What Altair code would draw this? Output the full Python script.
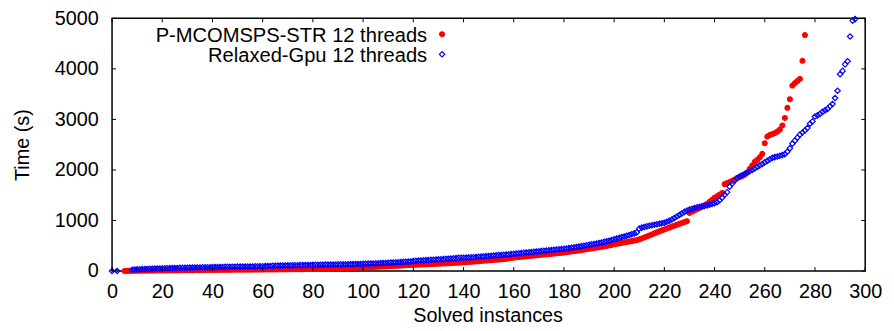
import altair as alt
import pandas as pd

SERIES = ["P-MCOMSPS-STR 12 threads", "Relaxed-Gpu 12 threads"]
x_ticks = list(range(0, 301, 20))
y_ticks = [0, 1000, 2000, 3000, 4000, 5000]

# P-MCOMSPS-STR: solved instances 5..276
red_first_x = 5
red_a = [2, 3, 3, 4, 5, 5, 6, 7, 7, 8, 9, 9, 10, 11, 12]
red_b = [12, 13, 13, 14, 14, 15, 15, 16, 16, 17, 17, 18, 18, 19, 19, 20, 20, 21, 21, 22]
red_c = [22, 23, 23, 24, 24, 25, 25, 25, 26, 26, 27, 27, 27, 28, 28, 28, 29, 29, 30, 30]
red_d = [30, 31, 31, 32, 32, 33, 33, 34, 34, 35, 35, 36, 36, 37, 37, 38, 38, 39, 39, 40]
red_e = [40, 41, 43, 44, 46, 47, 49, 50, 52, 53, 55, 56, 58, 59, 61, 62, 64, 66, 68, 70]
red_f = [72, 74, 77, 79, 82, 84, 87, 89, 92, 94, 97, 99, 102, 104, 107, 109, 112, 115, 118, 121]
red_g = [124, 126, 128, 130, 132, 134, 136, 138, 140, 142, 145, 147, 150, 152, 155, 157, 160, 162, 165, 168]
red_h = [172, 176, 180, 184, 188, 192, 196, 200, 204, 208, 212, 216, 220, 224, 228, 233, 238, 243, 250, 258]
red_i = [268, 272, 276, 281, 286, 291, 296, 301, 306, 311, 316, 321, 326, 331, 336, 341, 346, 351, 356, 361]
red_j = [366, 373, 380, 387, 394, 401, 408, 416, 424, 432, 440, 448, 456, 464, 472, 480, 489, 498, 508, 518]
red_k = [529, 538, 547, 556, 565, 574, 583, 593, 603, 613]
red_l = [627, 645, 665, 685, 705, 725, 745, 765, 785, 805]
red_m = [823, 842, 861, 880, 898, 916, 934, 952, 970, 986]
red_n = [1150, 1175, 1200, 1225, 1250, 1275, 1300, 1330, 1370, 1410]
red_o = [1450, 1480, 1510, 1545, 1720, 1740, 1760, 1785, 1810, 1840]
red_p = [1860, 1880, 1910, 1950, 2020, 2090, 2160, 2200, 2250, 2320]
red_q = [2530, 2660, 2690, 2710, 2730, 2760, 2800, 2880, 3030, 3230, 3400, 3670, 3720, 3760, 3800, 4160, 4670]

# Relaxed-Gpu: solved instances 0, 2, then 8..296
blue_head_x = [0, 2]
blue_head_y = [0, 0]
blue_first_x = 8
blue_a = [25, 30, 32, 35, 37, 39, 41, 43, 45, 47, 49, 51]
blue_b = [52, 54, 55, 57, 58, 60, 61, 62, 63, 64, 66, 67, 68, 69, 70, 71, 72, 73, 74, 75]
blue_c = [77, 78, 79, 80, 81, 82, 83, 84, 85, 86, 87, 88, 88, 89, 90, 91, 91, 92, 93, 94]
blue_d = [95, 97, 99, 101, 103, 105, 107, 108, 109, 110, 111, 112, 113, 114, 115, 116, 117, 118, 119, 120]
blue_e = [121, 122, 123, 124, 125, 126, 127, 128, 129, 130, 131, 132, 133, 134, 135, 136, 137, 138, 139, 140]
blue_f = [142, 144, 146, 148, 150, 152, 154, 156, 158, 160, 163, 166, 169, 172, 175, 178, 181, 184, 187, 190]
blue_g = [200, 203, 206, 209, 212, 215, 218, 221, 224, 227, 230, 233, 236, 240, 244, 248, 252, 256, 260, 264]
blue_h = [262, 265, 268, 271, 274, 278, 282, 286, 290, 294, 298, 302, 306, 310, 314, 318, 322, 326, 330, 335]
blue_i = [340, 345, 350, 355, 360, 365, 370, 375, 380, 385, 390, 395, 400, 405, 410, 415, 420, 425, 430, 435]
blue_j = [440, 447, 454, 461, 468, 476, 484, 492, 500, 509, 518, 527, 536, 546, 556, 566, 577, 588, 600, 614]
blue_k = [628, 642, 656, 670, 684, 698, 712, 728, 745, 765]
blue_l = [840, 860, 872, 884, 895, 905, 915, 925, 935, 945]
blue_m = [955, 975, 995, 1020, 1050, 1080, 1110, 1140, 1170, 1195]
blue_n = [1215, 1230, 1245, 1260, 1270, 1280, 1290, 1300, 1315, 1330]
blue_o = [1340, 1360, 1400, 1450, 1510, 1560, 1670, 1730, 1790, 1840]
blue_p = [1870, 1895, 1920, 1946, 1975, 2000, 2030, 2060, 2090, 2117]
blue_q = [2150, 2180, 2210, 2240, 2255, 2265, 2280, 2295, 2313, 2360]
blue_r = [2430, 2520, 2580, 2640, 2700, 2740, 2780, 2830, 2915, 2960]
blue_s = [3058, 3080, 3110, 3150, 3180, 3208, 3260, 3306, 3424, 3567]
blue_t = [3894, 3960, 4090, 4150, 4640, 4955, 4985]

red_y = (red_a + red_b + red_c + red_d + red_e + red_f + red_g + red_h + red_i
         + red_j + red_k + red_l + red_m + red_n + red_o + red_p + red_q)
red_x = [red_first_x + i for i in range(len(red_y))]
blue_rest = (blue_a + blue_b + blue_c + blue_d + blue_e + blue_f + blue_g + blue_h
             + blue_i + blue_j + blue_k + blue_l + blue_m + blue_n + blue_o + blue_p
             + blue_q + blue_r + blue_s + blue_t)
blue_x = blue_head_x + [blue_first_x + i for i in range(len(blue_rest))]
blue_y = blue_head_y + blue_rest

df = pd.DataFrame({
    "series": [SERIES[0]] * len(red_y) + [SERIES[1]] * len(blue_y),
    "x": red_x + blue_x,
    "y": red_y + blue_y,
})

W, H = 760, 255
FONT = "Liberation Sans"
TICK = 4

xs = alt.Scale(domain=[0, 300], nice=False, zero=False)
ys = alt.Scale(domain=[0, 5000], nice=False)
shape_s = alt.Scale(domain=SERIES, range=["circle", "diamond"])
fill_s = alt.Scale(domain=SERIES, range=["#ff0000", "transparent"])
stroke_s = alt.Scale(domain=SERIES, range=["#ff0000", "#0000ff"])
size_s = alt.Scale(domain=SERIES, range=[24, 30])

x_axis = alt.Axis(
    values=x_ticks, title="Solved instances", ticks=False, tickSize=0, domain=False,
    grid=False, labelPadding=11, labelFontSize=20, labelFont=FONT, labelColor="black",
    labelFlush=False, labelOverlap=False, format="d",
    titleFont=FONT, titleFontSize=20, titleFontWeight="normal", titleColor="black",
    titleX=379, titleY=51, titleBaseline="alphabetic",
)
y_axis = alt.Axis(
    values=y_ticks, title="Time (s)", ticks=False, tickSize=0, domain=False,
    grid=False, labelPadding=14, labelFontSize=20, labelFont=FONT, labelColor="black",
    labelFlush=False, labelOverlap=False, format="d",
    titleFont=FONT, titleFontSize=20, titleFontWeight="normal", titleColor="black",
    titleX=-84, titleY=H / 2, titleBaseline="alphabetic",
)

points = alt.Chart(df).mark_point(strokeWidth=1.2, opacity=1).encode(
    x=alt.X("x:Q", scale=xs, axis=x_axis, title="Solved instances"),
    y=alt.Y("y:Q", scale=ys, axis=y_axis, title="Time (s)"),
    shape=alt.Shape("series:N", scale=shape_s, legend=None),
    fill=alt.Fill("series:N", scale=fill_s, legend=None),
    stroke=alt.Stroke("series:N", scale=stroke_s, legend=None),
    size=alt.Size("series:N", scale=size_s, legend=None),
)

# gnuplot-style key: right-aligned label, symbol to its right
key_rows = []
for name, ty in zip(SERIES, [16, 36.3]):
    kd = pd.DataFrame({"series": [name]})
    lab = alt.Chart(kd).mark_text(
        align="right", baseline="alphabetic", font=FONT, fontSize=20.3, color="black", dy=7.5
    ).encode(text="series:N", x=alt.value(318), y=alt.value(ty))
    sym = alt.Chart(kd).mark_point(strokeWidth=1.2, opacity=1).encode(
        x=alt.value(333), y=alt.value(ty),
        shape=alt.Shape("series:N", scale=shape_s, legend=None),
        fill=alt.Fill("series:N", scale=fill_s, legend=None),
        stroke=alt.Stroke("series:N", scale=stroke_s, legend=None),
        size=alt.Size("series:N", scale=size_s, legend=None),
    )
    key_rows += [lab, sym]

xt = pd.DataFrame({"x": x_ticks})
yt = pd.DataFrame({"y": y_ticks})
tick_style = dict(color="black", strokeWidth=1)
t_bottom = alt.Chart(xt).mark_rule(**tick_style).encode(
    x=alt.X("x:Q", scale=xs, axis=x_axis, title="Solved instances"), y=alt.value(H), y2=alt.value(H - TICK))
t_top = alt.Chart(xt).mark_rule(**tick_style).encode(
    x=alt.X("x:Q", scale=xs, axis=x_axis, title="Solved instances"), y=alt.value(0), y2=alt.value(TICK))
t_left = alt.Chart(yt).mark_rule(**tick_style).encode(
    y=alt.Y("y:Q", scale=ys, axis=y_axis, title="Time (s)"), x=alt.value(0), x2=alt.value(TICK))
t_right = alt.Chart(yt).mark_rule(**tick_style).encode(
    y=alt.Y("y:Q", scale=ys, axis=y_axis, title="Time (s)"), x=alt.value(W), x2=alt.value(W - TICK))

chart = alt.layer(points, t_bottom, t_top, t_left, t_right, *key_rows).properties(
    width=W, height=H,
    autosize=alt.AutoSizeParams(type="none"),
    padding={"left": 105, "top": 9, "right": 21, "bottom": 51},
).configure_view(stroke="black", strokeWidth=1.5)

chart.save("out.html", embed_options={"renderer": "svg", "actions": False})
